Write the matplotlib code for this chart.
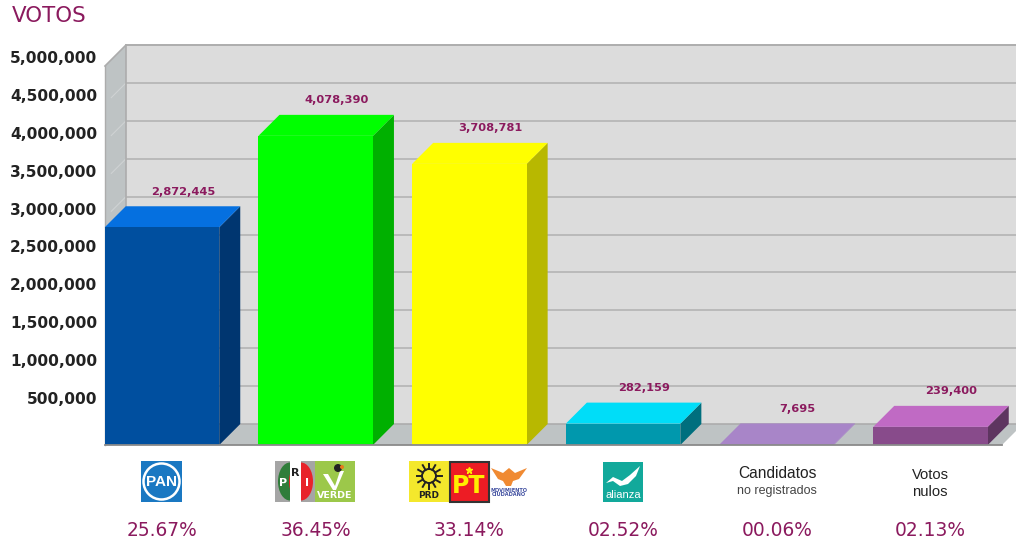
import numpy as np
import matplotlib
matplotlib.use('Agg')
import matplotlib.pyplot as plt
from matplotlib.patches import Polygon, Rectangle, Circle, Ellipse
from matplotlib.transforms import ScaledTranslation

votes = [2872445, 4078390, 3708781, 282159, 7695, 239400]
vote_labels = ['2,872,445', '4,078,390', '3,708,781', '282,159', '7,695', '239,400']
percents = ['25.67%', '36.45%', '33.14%', '02.52%', '00.06%', '02.13%']
front_colors = ['#004f9f', '#00ff00', '#ffff00', '#0098ad', '#a885c8', '#884b8b']
top_colors = ['#0570e0', '#00ff00', '#ffff00', '#00ddf8', '#a885c8', '#c06ac4']
side_colors = ['#003670', '#00b000', '#b8b800', '#006f7e', '#a885c8', '#5e3560']
yticks = [500000, 1000000, 1500000, 2000000, 2500000, 3000000, 3500000, 4000000, 4500000, 5000000]
ytick_labels = ['500,000', '1,000,000', '1,500,000', '2,000,000', '2,500,000',
                '3,000,000', '3,500,000', '4,000,000', '4,500,000', '5,000,000']

W, H = 1016, 544
text_col = '#8b1a5e'
grid_col = '#b4b4b4'
wall_col = '#dcdcdc'
floor_col = '#bec3c4'
step = 153.7               # pixels between two bars

fig = plt.figure(figsize=(W / 100, H / 100), dpi=100, facecolor='white')

# front plane of the 3d box: x in bar index, y in votes
ax = fig.add_axes([105 / W, 1 - 445 / H, 897 / W, 379 / H])
ax.set_xlim(-57 / step, 840 / step)
ax.set_ylim(0, 5000000)
ax.patch.set_visible(False)
for s in ax.spines.values():
    s.set_visible(False)

ddx = 21 / step            # depth of the box in x units
ddy = 21 / 379 * 5000000   # depth of the box in y units
bw = 114.5 / step          # bar width
x0, x1 = ax.get_xlim()
ymax = 5000000


def poly(pts, fc, z=2, ec='none', lw=0):
    ax.add_patch(Polygon(pts, closed=True, fc=fc, ec=ec, lw=lw, zorder=z, clip_on=False))


# back wall, left wall and floor
poly([(x0 + ddx, ddy), (x1 + 1, ddy), (x1 + 1, ymax + ddy), (x0 + ddx, ymax + ddy)], wall_col, 1)
poly([(x0, 0), (x0 + ddx, ddy), (x0 + ddx, ymax + ddy), (x0, ymax)], floor_col, 1)
poly([(x0, 0), (x1, 0), (x1 + ddx, ddy), (x0 + ddx, ddy)], floor_col, 1.5)

for v in yticks:
    ax.plot([x0 + ddx, x1 + 1], [v + ddy, v + ddy], color=grid_col, lw=1.2, zorder=1.2, clip_on=False)
    if v < ymax:
        ax.plot([x0 + ddx, x0 + 0.3 * ddx], [v + ddy, v + 0.3 * ddy], color='#cfd2d3', lw=0.8,
                zorder=1.2, clip_on=False)
ax.plot([x0, x0 + ddx, x1 + 1], [ymax, ymax + ddy, ymax + ddy], color='#acacac', lw=1.2, zorder=1.3, clip_on=False)
ax.plot([x0, x0], [0, ymax], color='#acacac', lw=1, zorder=1.3, clip_on=False)
ax.plot([x0 + ddx, x0 + ddx], [ddy, ymax + ddy], color='#acacac', lw=1.2, zorder=1.3, clip_on=False)
ax.plot([x0 + ddx, x1 + 1], [ddy, ddy], color='#acacac', lw=1.2, zorder=1.6, clip_on=False)

# bars
for i, v in enumerate(votes):
    l = i - bw / 2
    r = i + bw / 2
    ax.bar(i, v, width=bw, color=front_colors[i], zorder=3, clip_on=False)
    poly([(r, 0), (r + ddx, ddy), (r + ddx, v + ddy), (r, v)], side_colors[i], 2.5)
    poly([(l, v), (r, v), (r + ddx, v + ddy), (l + ddx, v + ddy)], top_colors[i], 2.6)
    ax.annotate(vote_labels[i], (i + ddx, v + ddy), xytext=(0, 14.5 * 0.72), textcoords='offset points',
                ha='center', va='center', fontsize=8.2, fontweight='bold', color=text_col,
                annotation_clip=False, zorder=5)
    ax.annotate(percents[i], (i, 0), xytext=(0, -85.5 * 0.72), textcoords='offset points',
                ha='center', va='center', fontsize=13.4, color=text_col, annotation_clip=False)

ax.plot([x0, x1], [0, 0], color='#8a8a8a', lw=1.3, zorder=4, clip_on=False)

ax.set_xticks([])
ax.set_yticks(yticks)
ax.set_yticklabels(ytick_labels, fontsize=11.1, fontweight='bold', color='#222222')
ax.tick_params(axis='y', length=0, pad=8 * 0.72)
up = ScaledTranslation(0, 9 / 100, fig.dpi_scale_trans)
for t in ax.get_yticklabels():
    t.set_transform(t.get_transform() + up)

# overlay in pixels for title and party logos
ov = fig.add_axes([0, 0, 1, 1])
ov.set_xlim(0, W)
ov.set_ylim(H, 0)
ov.axis('off')
ov.patch.set_visible(False)

ov.text(12, 16, 'VOTOS', fontsize=15.4, color=text_col, ha='left', va='center')

# PAN
ov.add_patch(Rectangle((141, 461), 41, 41, fc='#1a78c2'))
ov.add_patch(Circle((161.5, 481.5), 18, fc='#1a78c2', ec='white', lw=1.8))
ov.text(161.5, 482, 'PAN', color='white', fontsize=11, fontweight='bold', ha='center', va='center',
        family='Liberation Sans')

# PRI + VERDE
ov.add_patch(Rectangle((275, 461), 40, 41, fc='#a5a5a5'))
ov.add_patch(Ellipse((290, 481.5), 24, 38, fc='#2f7d3a'))
ov.add_patch(Ellipse((301, 481.5), 24, 38, fc='#e8232a'))
ov.add_patch(Rectangle((289.5, 461), 11, 41, fc='white'))
ov.text(283.5, 483, 'P', color='white', fontsize=8, fontweight='bold', ha='center', va='center')
ov.text(295.5, 473, 'R', color='#222222', fontsize=8, fontweight='bold', ha='center', va='center')
ov.text(307, 483, 'I', color='white', fontsize=8, fontweight='bold', ha='center', va='center')
ov.add_patch(Rectangle((315, 461), 40, 41, fc='#9cc84a'))
ov.add_patch(Polygon([(323, 474), (328, 474), (335, 486), (340, 471), (344, 471), (336, 490), (333, 490)],
                     closed=True, fc='white'))
ov.add_patch(Circle((338, 468), 4, fc='#222222'))
ov.add_patch(Circle((342, 467), 2, fc='#e87a1c'))
ov.text(335, 495, 'VERDE', color='white', fontsize=6.8, fontweight='bold', ha='center', va='center')

# PRD, PT, Movimiento Ciudadano
ov.add_patch(Rectangle((409, 461), 40, 41, fc='#f4e82c'))
for a in np.radians(np.arange(0, 360, 30)):
    ov.plot([429 + 7 * np.cos(a), 429 + 12.5 * np.cos(a)],
            [476 + 7 * np.sin(a), 476 + 12.5 * np.sin(a)], color='#222222', lw=1.4)
ov.add_patch(Circle((429, 476), 7, fc='#f4e82c', ec='#222222', lw=1.4))
ov.text(429, 496, 'PRD', color='#222222', fontsize=6.5, fontweight='bold', ha='center', va='center')
ov.add_patch(Rectangle((450, 462), 39, 40, fc='#ed1c24', ec='#333333', lw=1.5))
ov.text(469, 486, 'PT', color='#ffee00', fontsize=17, fontweight='bold', ha='center', va='center')
ov.plot([469], [470], marker='*', ms=5, color='#ffee00')
ov.add_patch(Polygon([(491, 468), (503, 473), (509, 468), (515, 473), (527, 468), (519, 479), (513, 481),
                      (511, 486), (506, 486), (503, 481), (498, 479)], closed=True, fc='#f08a32'))
ov.text(509, 490, 'MOVIMIENTO', color='#3f4ea0', fontsize=3.6, fontweight='bold', ha='center', va='center')
ov.text(509, 494.5, 'CIUDADANO', color='#3f4ea0', fontsize=3.6, fontweight='bold', ha='center', va='center')

# Nueva Alianza
ov.add_patch(Rectangle((603, 462), 40, 40, fc='#12a99b'))
ov.add_patch(Polygon([(606, 483), (613, 477), (622, 481), (630, 475), (640, 466), (636, 476), (628, 484),
                      (620, 486), (613, 481)], closed=True, fc='white'))
ov.text(623, 495, 'alianza', color='white', fontsize=8, ha='center', va='center', family='Liberation Sans')

# text categories
ov.text(777, 473, 'Candidatos', color='#222222', fontsize=11.2, ha='center', va='center', family='Liberation Sans')
ov.text(777, 491, 'no registrados', color='#444444', fontsize=9, ha='center', va='center', family='Liberation Sans')
ov.text(930, 475, 'Votos', color='#222222', fontsize=10.6, ha='center', va='center', family='Liberation Sans')
ov.text(930, 492, 'nulos', color='#222222', fontsize=10.6, ha='center', va='center', family='Liberation Sans')

fig.savefig('out.png', dpi=100, facecolor='white')
